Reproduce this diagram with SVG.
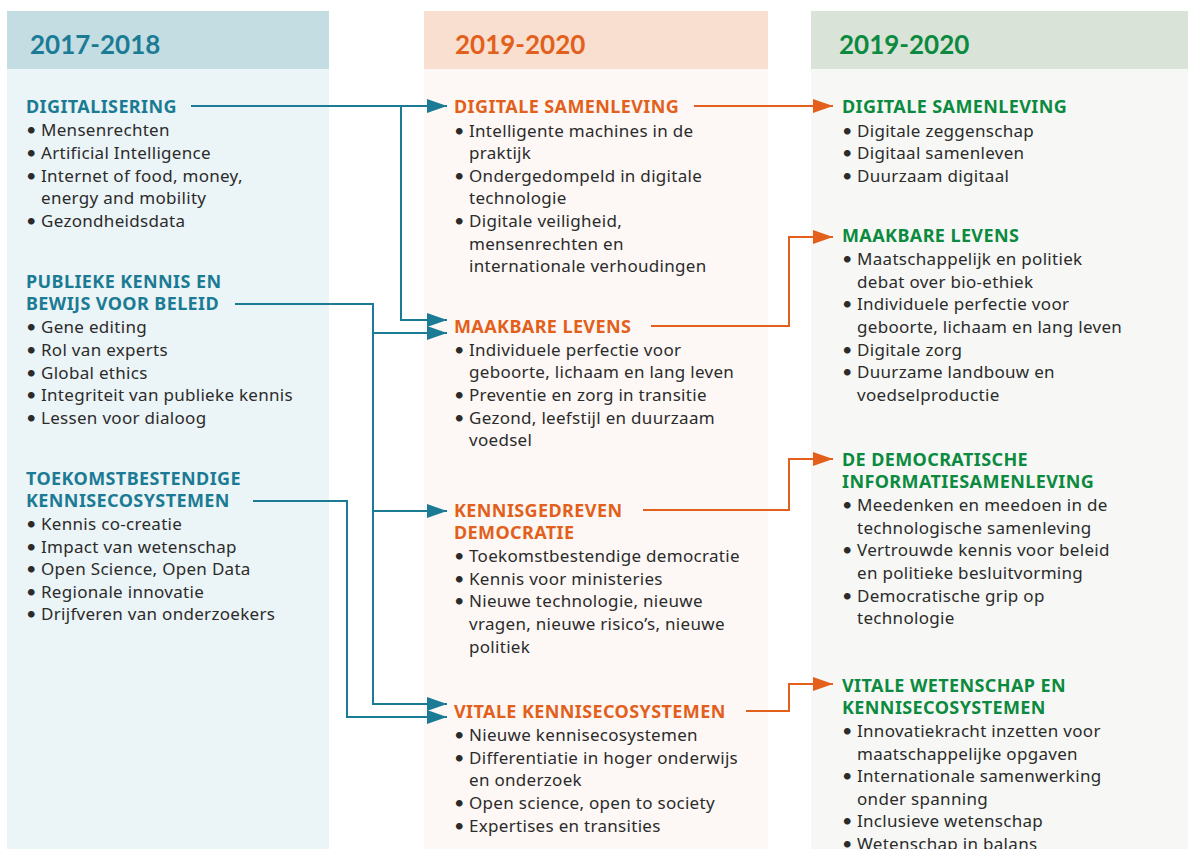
<svg xmlns="http://www.w3.org/2000/svg" width="1188" height="849" viewBox="0 0 1188 849">
<defs>
<style>
.hd{font-family:Lato,"Noto Sans",sans-serif;font-weight:700;font-size:26px}
.t{font-family:"Noto Sans",Lato,sans-serif;font-size:17px;letter-spacing:0.3px;fill:#2b2b2b}
.b{font-family:Lato,"Noto Sans",sans-serif;font-size:18px;letter-spacing:0}
.h{font-family:"Noto Sans",Lato,sans-serif;font-weight:700;font-size:18px;letter-spacing:0.4px}
.teal{fill:#1b7b95}
.or{fill:#e2601b}
.gr{fill:#0b8a40}
.ct{fill:none;stroke:#1b7b95;stroke-width:2}
.co{fill:none;stroke:#e2601b;stroke-width:2}
</style>
<marker id="at" markerUnits="userSpaceOnUse" markerWidth="20" markerHeight="14" refX="20" refY="7" orient="auto"><path d="M0,0 L20,7 L0,14 Z" fill="#1b7b95"/></marker>
<marker id="ao" markerUnits="userSpaceOnUse" markerWidth="20" markerHeight="14" refX="20" refY="7" orient="auto"><path d="M0,0 L20,7 L0,14 Z" fill="#e2601b"/></marker>
</defs>
<rect width="1188" height="849" fill="#ffffff"/>
<g id="columns">
<rect x="7" y="69" width="322" height="780" fill="#ebf4f6"/>
<rect x="7" y="11" width="322" height="58" fill="#c3dde3"/>
<rect x="424" y="69" width="344" height="780" fill="#fdf8f5"/>
<rect x="424" y="11" width="344" height="58" fill="#f8dfcf"/>
<rect x="811" y="69" width="377" height="780" fill="#f7f8f5"/>
<rect x="811" y="11" width="377" height="58" fill="#dae3d7"/>
<text class="hd teal" x="30" y="54">2017-2018</text>
<text class="hd or" x="455" y="54">2019-2020</text>
<text class="hd gr" x="839" y="54">2019-2020</text>
</g>
<g id="connectors">
<path class="ct" d="M191,106 H447" marker-end="url(#at)"/>
<path class="ct" d="M401,106 V320 H447" marker-end="url(#at)"/>
<path class="ct" d="M235,304 H373 V333 H447" marker-end="url(#at)"/>
<path class="ct" d="M373,333 V511 H447" marker-end="url(#at)"/>
<path class="ct" d="M373,511 V704 H447" marker-end="url(#at)"/>
<path class="ct" d="M253,501 H347 V717 H447" marker-end="url(#at)"/>
<path class="co" d="M694,106 H833" marker-end="url(#ao)"/>
<path class="co" d="M651,326 H789 V237 H833" marker-end="url(#ao)"/>
<path class="co" d="M643,510 H789 V459 H833" marker-end="url(#ao)"/>
<path class="co" d="M746,711 H789 V684 H833" marker-end="url(#ao)"/>
</g>
<g id="n-digitalisering">
<text class="h teal" x="26" y="113">DIGITALISERING</text>
<text class="t"><tspan class="b" x="26" y="136">•</tspan><tspan x="41" y="136">Mensenrechten</tspan><tspan class="b" x="26" y="159">•</tspan><tspan x="41" y="159">Artificial Intelligence</tspan><tspan class="b" x="26" y="182">•</tspan><tspan x="41" y="182">Internet of food, money,</tspan><tspan x="41" y="204">energy and mobility</tspan><tspan class="b" x="26" y="227">•</tspan><tspan x="41" y="227">Gezondheidsdata</tspan></text>
</g>
<g id="n-publieke">
<text class="h teal"><tspan x="26" y="288">PUBLIEKE KENNIS EN</tspan><tspan x="26" y="310">BEWIJS VOOR BELEID</tspan></text>
<text class="t"><tspan class="b" x="26" y="333">•</tspan><tspan x="41" y="333">Gene editing</tspan><tspan class="b" x="26" y="356">•</tspan><tspan x="41" y="356">Rol van experts</tspan><tspan class="b" x="26" y="379">•</tspan><tspan x="41" y="379">Global ethics</tspan><tspan class="b" x="26" y="401">•</tspan><tspan x="41" y="401">Integriteit van publieke kennis</tspan><tspan class="b" x="26" y="424">•</tspan><tspan x="41" y="424">Lessen voor dialoog</tspan></text>
</g>
<g id="n-toekomst">
<text class="h teal"><tspan x="26" y="485">TOEKOMSTBESTENDIGE</tspan><tspan x="26" y="507">KENNISECOSYSTEMEN</tspan></text>
<text class="t"><tspan class="b" x="26" y="530">•</tspan><tspan x="41" y="530">Kennis co-creatie</tspan><tspan class="b" x="26" y="553">•</tspan><tspan x="41" y="553">Impact van wetenschap</tspan><tspan class="b" x="26" y="575">•</tspan><tspan x="41" y="575">Open Science, Open Data</tspan><tspan class="b" x="26" y="598">•</tspan><tspan x="41" y="598">Regionale innovatie</tspan><tspan class="b" x="26" y="620">•</tspan><tspan x="41" y="620">Drijfveren van onderzoekers</tspan></text>
</g>
<g id="n-digsam1">
<text class="h or" x="454" y="113">DIGITALE SAMENLEVING</text>
<text class="t"><tspan class="b" x="454" y="137">•</tspan><tspan x="469" y="137">Intelligente machines in de</tspan><tspan x="469" y="159">praktijk</tspan><tspan class="b" x="454" y="182">•</tspan><tspan x="469" y="182">Ondergedompeld in digitale</tspan><tspan x="469" y="204">technologie</tspan><tspan class="b" x="454" y="227">•</tspan><tspan x="469" y="227">Digitale veiligheid,</tspan><tspan x="469" y="250">mensenrechten en</tspan><tspan x="469" y="272">internationale verhoudingen</tspan></text>
</g>
<g id="n-maakbaar1">
<text class="h or" x="454" y="333">MAAKBARE LEVENS</text>
<text class="t"><tspan class="b" x="454" y="356">•</tspan><tspan x="469" y="356">Individuele perfectie voor</tspan><tspan x="469" y="378">geboorte, lichaam en lang leven</tspan><tspan class="b" x="454" y="401">•</tspan><tspan x="469" y="401">Preventie en zorg in transitie</tspan><tspan class="b" x="454" y="424">•</tspan><tspan x="469" y="424">Gezond, leefstijl en duurzaam</tspan><tspan x="469" y="446">voedsel</tspan></text>
</g>
<g id="n-kennisgedreven">
<text class="h or"><tspan x="454" y="517">KENNISGEDREVEN</tspan><tspan x="454" y="539">DEMOCRATIE</tspan></text>
<text class="t"><tspan class="b" x="454" y="562">•</tspan><tspan x="469" y="562">Toekomstbestendige democratie</tspan><tspan class="b" x="454" y="585">•</tspan><tspan x="469" y="585">Kennis voor ministeries</tspan><tspan class="b" x="454" y="607">•</tspan><tspan x="469" y="607">Nieuwe technologie, nieuwe</tspan><tspan x="469" y="630">vragen, nieuwe risico’s, nieuwe</tspan><tspan x="469" y="653">politiek</tspan></text>
</g>
<g id="n-vitale1">
<text class="h or" x="454" y="718">VITALE KENNISECOSYSTEMEN</text>
<text class="t"><tspan class="b" x="454" y="741">•</tspan><tspan x="469" y="741">Nieuwe kennisecosystemen</tspan><tspan class="b" x="454" y="764">•</tspan><tspan x="469" y="764">Differentiatie in hoger onderwijs</tspan><tspan x="469" y="786">en onderzoek</tspan><tspan class="b" x="454" y="809">•</tspan><tspan x="469" y="809">Open science, open to society</tspan><tspan class="b" x="454" y="832">•</tspan><tspan x="469" y="832">Expertises en transities</tspan></text>
</g>
<g id="n-digsam2">
<text class="h gr" x="842" y="113">DIGITALE SAMENLEVING</text>
<text class="t"><tspan class="b" x="842" y="137">•</tspan><tspan x="857" y="137">Digitale zeggenschap</tspan><tspan class="b" x="842" y="159">•</tspan><tspan x="857" y="159">Digitaal samenleven</tspan><tspan class="b" x="842" y="182">•</tspan><tspan x="857" y="182">Duurzaam digitaal</tspan></text>
</g>
<g id="n-maakbaar2">
<text class="h gr" x="842" y="242">MAAKBARE LEVENS</text>
<text class="t"><tspan class="b" x="842" y="265">•</tspan><tspan x="857" y="265">Maatschappelijk en politiek</tspan><tspan x="857" y="288">debat over bio-ethiek</tspan><tspan class="b" x="842" y="310">•</tspan><tspan x="857" y="310">Individuele perfectie voor</tspan><tspan x="857" y="333">geboorte, lichaam en lang leven</tspan><tspan class="b" x="842" y="356">•</tspan><tspan x="857" y="356">Digitale zorg</tspan><tspan class="b" x="842" y="378">•</tspan><tspan x="857" y="378">Duurzame landbouw en</tspan><tspan x="857" y="401">voedselproductie</tspan></text>
</g>
<g id="n-democratische">
<text class="h gr"><tspan x="842" y="466">DE DEMOCRATISCHE</tspan><tspan x="842" y="488">INFORMATIESAMENLEVING</tspan></text>
<text class="t"><tspan class="b" x="842" y="511">•</tspan><tspan x="857" y="511">Meedenken en meedoen in de</tspan><tspan x="857" y="534">technologische samenleving</tspan><tspan class="b" x="842" y="556">•</tspan><tspan x="857" y="556">Vertrouwde kennis voor beleid</tspan><tspan x="857" y="579">en politieke besluitvorming</tspan><tspan class="b" x="842" y="602">•</tspan><tspan x="857" y="602">Democratische grip op</tspan><tspan x="857" y="624">technologie</tspan></text>
</g>
<g id="n-vitale2">
<text class="h gr"><tspan x="842" y="692">VITALE WETENSCHAP EN</tspan><tspan x="842" y="714">KENNISECOSYSTEMEN</tspan></text>
<text class="t"><tspan class="b" x="842" y="737">•</tspan><tspan x="857" y="737">Innovatiekracht inzetten voor</tspan><tspan x="857" y="760">maatschappelijke opgaven</tspan><tspan class="b" x="842" y="782">•</tspan><tspan x="857" y="782">Internationale samenwerking</tspan><tspan x="857" y="805">onder spanning</tspan><tspan class="b" x="842" y="827">•</tspan><tspan x="857" y="827">Inclusieve wetenschap</tspan><tspan class="b" x="842" y="850">•</tspan><tspan x="857" y="850">Wetenschap in balans</tspan></text>
</g>
</svg>
